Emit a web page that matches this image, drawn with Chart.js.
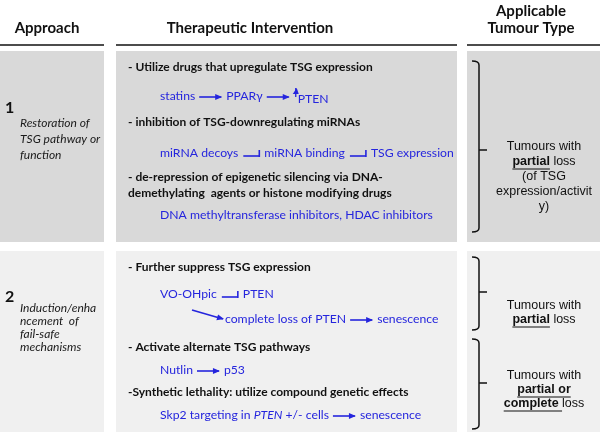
<!DOCTYPE html>
<html>
<head>
<meta charset="utf-8">
<script src="https://cdn.jsdelivr.net/npm/chart.js@4.4.1/dist/chart.umd.min.js"></script>
<style>
html, body { margin: 0; padding: 0; background: #fff; }
#wrap { width: 600px; height: 435px; }
</style>
</head>
<body>
<div id="wrap"><canvas id="myChart"></canvas></div>
<script>
// Texts of the table
const headers = [['Approach'], ['Therapeutic Intervention'], ['Applicable', 'Tumour Type']];
const approachNumbers = ['1', '2'];
const approachLabels = [
    ['Restoration of', 'TSG pathway or', 'function'],
    ['Induction/enha', 'ncement  of', 'fail-safe', 'mechanisms']
];
// 'head' rows are bold black, 'path' rows are blue with arrows
// tokens: '->' arrow, '-|' inhibition, '^' up arrow, '\\' diagonal arrow, '*' italic
const interventions1 = [
    ['head', '- Utilize drugs that upregulate TSG expression'],
    ['path', 'statins', '->', 'PPARγ', '->', '^', 'PTEN'],
    ['head', '- inhibition of TSG-downregulating miRNAs'],
    ['path', 'miRNA decoys', '-|', 'miRNA binding', '-|', 'TSG expression'],
    ['head', '- de-repression of epigenetic silencing via DNA-'],
    ['head', 'demethylating  agents or histone modifying drugs'],
    ['path', 'DNA methyltransferase inhibitors, HDAC inhibitors']
];
const interventions2 = [
    ['head', '- Further suppress TSG expression'],
    ['path', 'VO-OHpic', '-|', 'PTEN'],
    ['path', '\\', 'complete loss of PTEN', '->', 'senescence'],
    ['head', '- Activate alternate TSG pathways'],
    ['path', 'Nutlin', '->', 'p53'],
    ['head', '-Synthetic lethality: utilize compound genetic effects'],
    ['path', 'Skp2 targeting in ', '*PTEN', ' +/- cells', '->', 'senescence']
];
// _text_ = bold + underlined
const tumourTypes = [
    ['Tumours with', '_partial_ loss', '(of TSG', 'expression/activit', 'y)'],
    ['Tumours with', '_partial_ loss'],
    ['Tumours with', '_partial or_', '_complete _loss']
];

// layout (diagram units = pixels of the 600x435 picture)
const layout = {
    headerX: [47, 250, 531],
    headerY: [[28], [28], [11, 28]],
    rules: [[0, 104], [116, 457], [467, 600]],
    ruleY: 45,
    sections: [[51, 242, '#d9d9d9'], [251, 432, '#f0f0f0']],
    numY: [108, 297],
    labelY: [[123, 139, 155], [308, 321, 334, 347]],
    rowY: [[67, 96, 122, 153, 177, 193, 215], [267, 294, 319, 347, 370, 392, 415]],
    headX: 128,
    pathX: 160,
    brackets: [[61, 232, 150], [257, 330, 292], [339, 429, 383]],
    bracketX: 479,
    tumourX: 544,
    tumourY: [[147, 162, 177, 192, 207], [306, 320], [376, 390, 404]]
};

const blue = '#2525dd';
const bodyFont = '"Lato", "Open Sans", sans-serif';
const armFont = '"Liberation Sans", Arial, sans-serif';

const tablePlugin = {
    id: 'table',
    afterDraw(chart) {
        const ctx = chart.ctx;
        const sx = chart.scales.x, sy = chart.scales.y;
        const X = v => sx.getPixelForValue(v);
        const Y = v => sy.getPixelForValue(v);
        ctx.save();
        ctx.textBaseline = 'middle';

        // boxes
        layout.sections.forEach(s => {
            ctx.fillStyle = s[2];
            layout.rules.forEach(r => {
                ctx.fillRect(X(r[0]), Y(s[0]), X(r[1]) - X(r[0]), Y(s[1]) - Y(s[0]));
            });
        });

        // headers
        ctx.fillStyle = '#111';
        ctx.textAlign = 'center';
        ctx.font = 'bold 15px ' + bodyFont;
        headers.forEach((h, i) => {
            h.forEach((line, j) => ctx.fillText(line, X(layout.headerX[i]), Y(layout.headerY[i][j])));
        });
        ctx.strokeStyle = '#111';
        ctx.lineWidth = 1.6;
        layout.rules.forEach(r => {
            ctx.beginPath();
            ctx.moveTo(X(r[0]), Y(layout.ruleY));
            ctx.lineTo(X(r[1]), Y(layout.ruleY));
            ctx.stroke();
        });

        // approach column
        ctx.textAlign = 'left';
        approachNumbers.forEach((n, i) => {
            ctx.font = 'bold 16px ' + bodyFont;
            ctx.fillStyle = '#111';
            ctx.fillText(n, X(5), Y(layout.numY[i]));
            ctx.font = 'italic 12px ' + bodyFont;
            ctx.fillStyle = '#1a1a1a';
            approachLabels[i].forEach((l, j) => ctx.fillText(l, X(20), Y(layout.labelY[i][j])));
        });

        // intervention column
        function arrow(x1, y1, x2, y2, head) {
            ctx.beginPath();
            ctx.moveTo(x1, y1);
            ctx.lineTo(x2, y2);
            ctx.stroke();
            const a = Math.atan2(y2 - y1, x2 - x1);
            if (head === 'arrow') {
                ctx.beginPath();
                ctx.moveTo(x2 + 1, y2);
                ctx.lineTo(x2 - 6 * Math.cos(a) + 3 * Math.sin(a), y2 - 6 * Math.sin(a) - 3 * Math.cos(a));
                ctx.lineTo(x2 - 6 * Math.cos(a) - 3 * Math.sin(a), y2 - 6 * Math.sin(a) + 3 * Math.cos(a));
                ctx.closePath();
                ctx.fill();
            } else {
                ctx.beginPath();
                ctx.moveTo(x2, y2 + 1);
                ctx.lineTo(x2, y2 - 6);
                ctx.stroke();
            }
        }
        [interventions1, interventions2].forEach((rows, si) => {
            rows.forEach((row, ri) => {
                const y = Y(layout.rowY[si][ri]);
                if (row[0] === 'head') {
                    ctx.font = 'bold 12px ' + bodyFont;
                    ctx.fillStyle = '#111';
                    ctx.fillText(row[1], X(layout.headX), y);
                    return;
                }
                ctx.fillStyle = blue;
                ctx.strokeStyle = blue;
                ctx.lineWidth = 1.6;
                let x = X(layout.pathX);
                let lift = false;
                row.slice(1).forEach(tok => {
                    if (tok === '->') {
                        arrow(x + 4, y + 1, x + 26, y + 1, 'arrow');
                        x += 31;
                    } else if (tok === '-|') {
                        arrow(x + 5, y + 3, x + 21, y + 3, 'bar');
                        x += 26;
                    } else if (tok === '\\') {
                        arrow(x + 32, y - 9, x + 63, y, 'arrow');
                        x += 65;
                    } else if (tok === '^') {
                        ctx.lineWidth = 1.3;
                        arrow(x + 2, y + 1, x + 2, y - 8, 'arrow');
                        ctx.lineWidth = 1.6;
                        x += 4;
                        lift = true;
                    } else {
                        const italic = tok[0] === '*';
                        const t = italic ? tok.slice(1) : tok;
                        ctx.font = (italic ? 'italic ' : '') + '12.2px ' + bodyFont;
                        ctx.fillText(t, x, lift ? y + 3 : y);
                        x += ctx.measureText(t).width;
                    }
                });
            });
        });

        // brackets
        ctx.strokeStyle = '#111';
        ctx.lineWidth = 1.5;
        layout.brackets.forEach(b => {
            const bx = X(layout.bracketX);
            ctx.beginPath();
            ctx.moveTo(bx - 7, Y(b[0]));
            ctx.quadraticCurveTo(bx, Y(b[0]), bx, Y(b[0]) + 4);
            ctx.lineTo(bx, Y(b[1]) - 4);
            ctx.quadraticCurveTo(bx, Y(b[1]), bx - 7, Y(b[1]));
            ctx.moveTo(bx, Y(b[2]));
            ctx.lineTo(bx + 8, Y(b[2]));
            ctx.stroke();
        });

        // tumour types
        ctx.fillStyle = '#111';
        tumourTypes.forEach((lines, ti) => {
            lines.forEach((line, li) => {
                const segs = line.split('_').map((t, k) => ({ t, b: k % 2 === 1 })).filter(s => s.t);
                const fontOf = s => (s.b ? 'bold ' : '') + '12.5px ' + armFont;
                let w = 0;
                segs.forEach(s => { ctx.font = fontOf(s); w += ctx.measureText(s.t).width; });
                let x = X(layout.tumourX) - w / 2;
                const y = Y(layout.tumourY[ti][li]);
                segs.forEach(s => {
                    ctx.font = fontOf(s);
                    ctx.fillText(s.t, x, y);
                    const sw = ctx.measureText(s.t).width;
                    if (s.b) {
                        ctx.lineWidth = 1;
                        ctx.beginPath();
                        ctx.moveTo(x, y + 7);
                        ctx.lineTo(x + sw, y + 7);
                        ctx.stroke();
                    }
                    x += sw;
                });
            });
        });
        ctx.restore();
    }
};

new Chart(document.getElementById('myChart').getContext('2d'), {
    type: 'scatter',
    data: { datasets: [{ data: [] }] },
    options: {
        responsive: true,
        maintainAspectRatio: false,
        animation: false,
        layout: { padding: 0 },
        plugins: { legend: { display: false }, tooltip: { enabled: false } },
        scales: {
            x: { type: 'linear', min: 0, max: 600, display: false },
            y: { type: 'linear', min: 0, max: 435, reverse: true, display: false }
        }
    },
    plugins: [tablePlugin]
});
</script>
</body>
</html>
